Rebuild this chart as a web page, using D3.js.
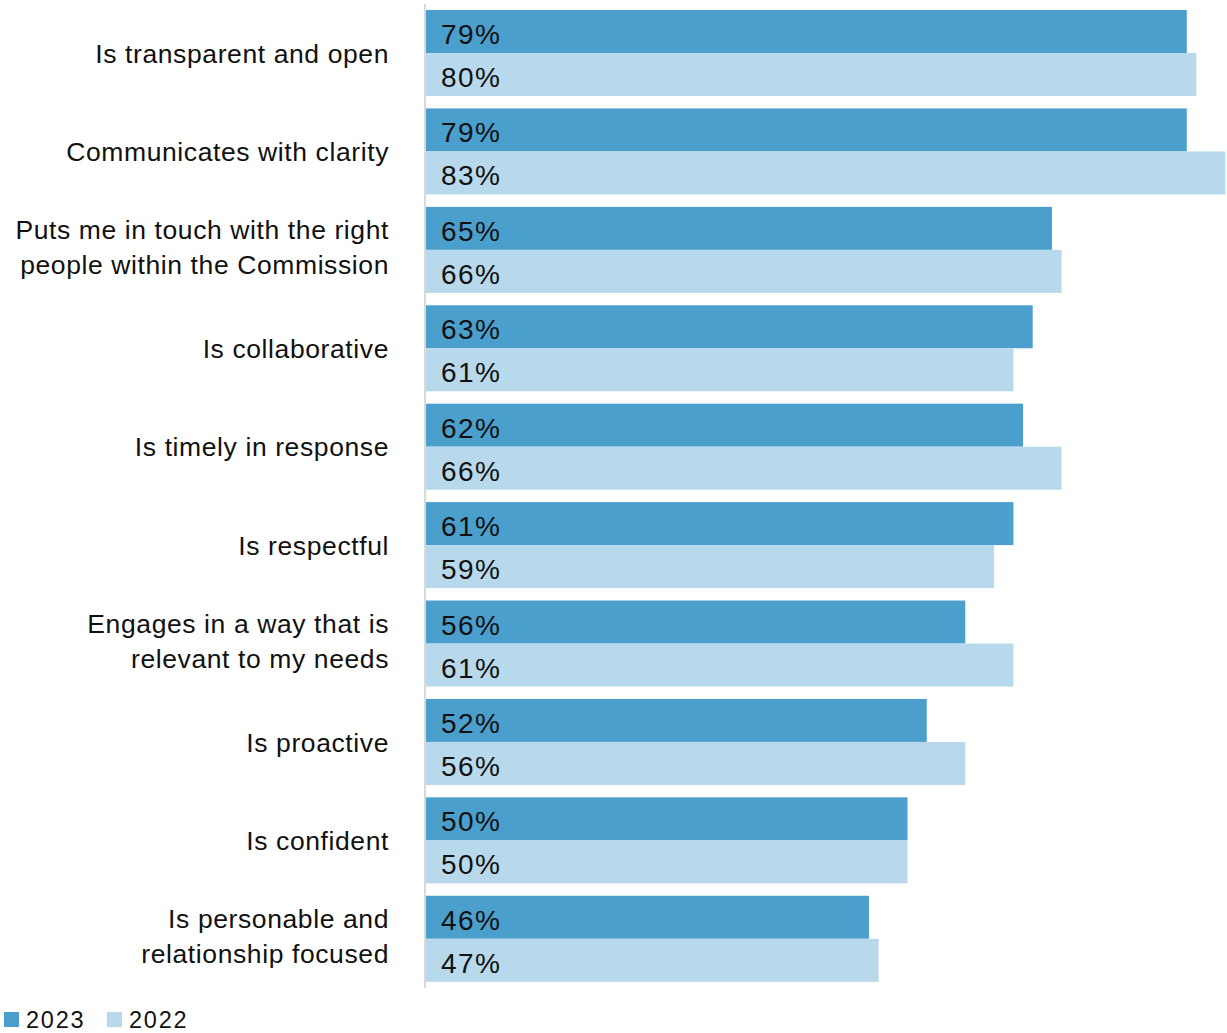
<!DOCTYPE html>
<html>
<head>
<meta charset="utf-8">
<script src="https://cdn.jsdelivr.net/npm/d3@7"></script>
<style>
  html, body { margin: 0; padding: 0; background: #fff; }
  svg { display: block; }
  text { font-family: "Liberation Sans", Arial, Helvetica, sans-serif; fill: #111; }
</style>
</head>
<body>
<svg id="chart" width="1227" height="1033"></svg>
<script>
// Attribute statements (each label line is its own entry)
const categories = [
  ["Is transparent and open"],
  ["Communicates with clarity"],
  ["Puts me in touch with the right", "people within the Commission"],
  ["Is collaborative"],
  ["Is timely in response"],
  ["Is respectful"],
  ["Engages in a way that is", "relevant to my needs"],
  ["Is proactive"],
  ["Is confident"],
  ["Is personable and", "relationship focused"]
];
const seriesNames = ["2023", "2022"];
const values2023 = [79, 79, 65, 63, 62, 61, 56, 52, 50, 46];
const values2022 = [80, 83, 66, 61, 66, 59, 61, 56, 50, 47];
const colors = ["#4a9fcd", "#b8d9ec"];

const svg = d3.select("#chart");
const W = 1227, H = 1033;

const axisX = 425;
const y = d3.scaleBand()
  .domain(d3.range(categories.length))
  .range([3.8, 988])
  .paddingInner(0.126)
  .paddingOuter(0.063);

const ySub = d3.scaleBand()
  .domain(seriesNames)
  .range([0, y.bandwidth()]);

const x = d3.scaleLinear().domain([0, 100]).range([axisX + 1, axisX + 1 + 963]);

const data = categories.map((c, i) => ({
  idx: i,
  label: c,
  vals: [
    { key: "2023", v: values2023[i] },
    { key: "2022", v: values2022[i] }
  ]
}));

const groups = svg.append("g")
  .selectAll("g")
  .data(data)
  .join("g")
  .attr("transform", d => `translate(0,${y(d.idx)})`);

groups.selectAll("rect")
  .data(d => d.vals)
  .join("rect")
  .attr("x", x(0))
  .attr("y", d => ySub(d.key))
  .attr("width", d => Math.min(x(d.v), W) - x(0))
  .attr("height", ySub.bandwidth())
  .attr("fill", (d, i) => colors[i]);

groups.selectAll("text.val")
  .data(d => d.vals)
  .join("text")
  .attr("class", "val")
  .attr("x", x(0) + 15)
  .attr("y", d => ySub(d.key) + ySub.bandwidth() / 2 + 12.5)
  .style("font-size", "28px")
  .style("letter-spacing", "1.4px")
  .text(d => d.v + "%");

// Category labels, right aligned left of the axis
groups.each(function(d) {
  const g = d3.select(this);
  const cy = y.bandwidth() / 2;
  const lines = d.label;
  const t = g.append("text")
    .attr("text-anchor", "end")
    .style("font-size", "26.5px")
    .style("letter-spacing", "0.6px");
  lines.forEach((ln, k) => {
    const base = lines.length === 1 ? cy + 9.7 : cy - 10.5 + k * 35;
    t.append("tspan").attr("x", 389).attr("y", base).text(ln);
  });
});

// Vertical category axis line
svg.append("line")
  .attr("x1", axisX).attr("x2", axisX)
  .attr("y1", y.range()[0]).attr("y2", y.range()[1])
  .attr("stroke", "#d9d9d9")
  .attr("stroke-width", 2);

// Legend
const legend = svg.append("g").attr("transform", "translate(4,1012)");
const legX = [0, 103];
seriesNames.forEach((s, i) => {
  const lg = legend.append("g").attr("transform", `translate(${legX[i]},0)`);
  lg.append("rect").attr("width", 15).attr("height", 15).attr("fill", colors[i]);
  lg.append("text")
    .attr("x", 22).attr("y", 15.5)
    .style("font-size", "23.5px")
    .style("letter-spacing", "1.8px")
    .text(s);
});
</script>
</body>
</html>
